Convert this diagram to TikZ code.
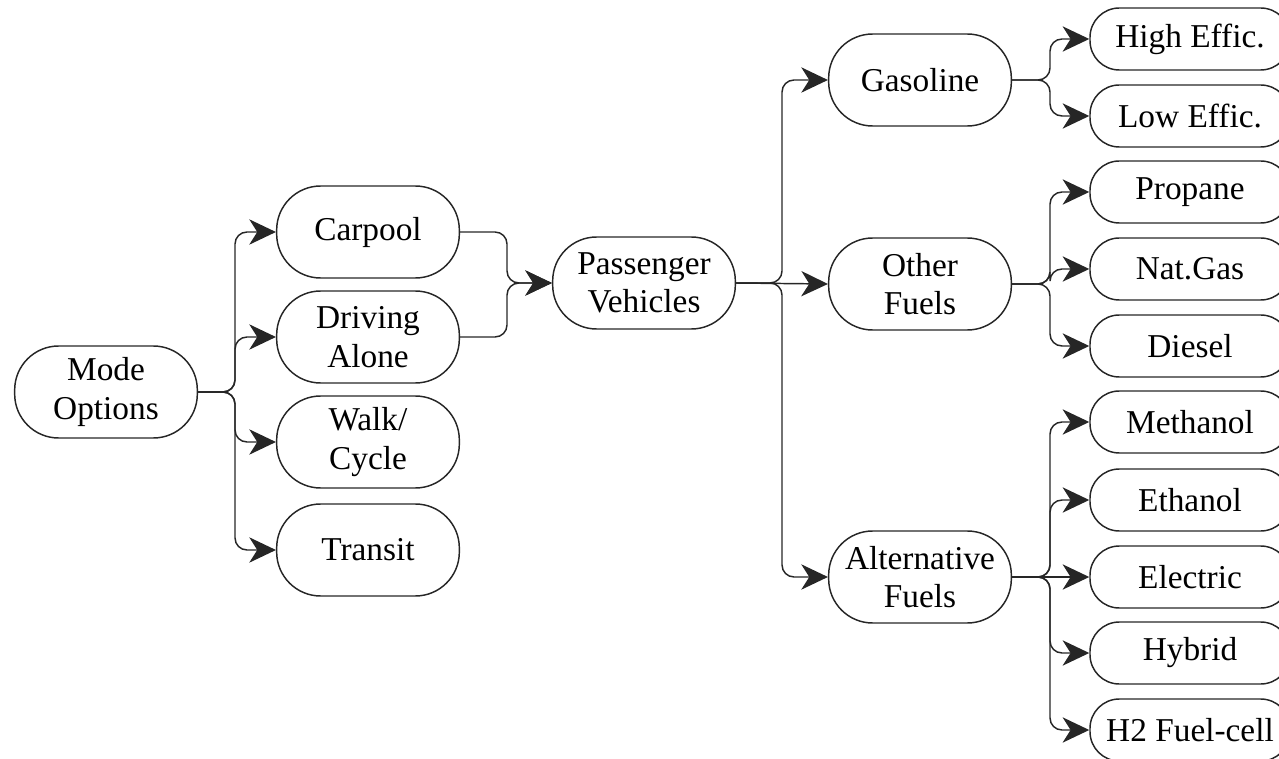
\documentclass[tikz,border=0pt]{standalone}
\usepackage{fontspec}
\setmainfont{Liberation Serif}
\usetikzlibrary{arrows.meta,calc}
\tikzset{
  pill/.style={draw=black!85, line width=1.1pt, rectangle, rounded corners=33pt,
    minimum width=137pt, minimum height=69pt, align=center, inner sep=0pt,
    font=\fontsize{25pt}{29pt}\selectfont},
  leaf/.style={draw=black!85, line width=1.1pt, rectangle, rounded corners=22pt,
    minimum width=150pt, minimum height=46.5pt, align=center, inner sep=0pt,
    font=\fontsize{25pt}{29pt}\selectfont},
  conn/.style={draw=black!85, line width=1.1pt, rounded corners=9pt,
    -{Stealth[length=20pt,width=19pt,inset=6pt]}}
}
\begin{document}
\begin{tikzpicture}[x=0.75pt,y=-0.75pt]
\useasboundingbox (0,0) rectangle (1279,759);
% nodes
\node[pill] (mode) at (106,392) {Mode\\Options};
\node[pill] (carpool) at (368,232) {Carpool};
\node[pill] (driving) at (368,337) {Driving\\Alone};
\node[pill] (walk) at (368,442) {Walk/\\Cycle};
\node[pill] (transit) at (368,550) {Transit};
\node[pill] (pv) at (644,283) {Passenger\\Vehicles};
\node[pill] (gas) at (920,80) {Gasoline};
\node[pill] (other) at (920,284) {Other\\Fuels};
\node[pill] (alt) at (920,577) {Alternative\\Fuels};
\node[leaf] (high) at (1190,39) {High Effic.};
\node[leaf] (low) at (1190,116) {Low Effic.};
\node[leaf] (propane) at (1190,192) {Propane};
\node[leaf] (natgas) at (1190,269) {Nat.Gas};
\node[leaf] (diesel) at (1190,346) {Diesel};
\node[leaf] (methanol) at (1190,422) {Methanol};
\node[leaf] (ethanol) at (1190,500) {Ethanol};
\node[leaf] (electric) at (1190,577) {Electric};
\node[leaf] (hybrid) at (1190,653) {Hybrid};
\node[leaf] (h2) at (1190,730) {H2 Fuel-cell};
% bus coordinates
\coordinate (busA) at (235,0);
\coordinate (busB) at (507,0);
\coordinate (busC) at (782,0);
\coordinate (busD) at (1050,0);
% connectors
\foreach \c in {carpool,driving,walk,transit}
  \draw[conn] (mode.east) -- (mode.east -| busA) -- (busA |- \c.west) -- (\c.west);
\foreach \c in {carpool,driving}
  \draw[conn] (\c.east) -- (\c.east -| busB) -- (busB |- pv.west) -- (pv.west);
\foreach \c in {gas,alt}
  \draw[conn] (pv.east) -- (pv.east -| busC) -- (busC |- \c.west) -- (\c.west);
\draw[conn] (pv.east) -- (other.west);
\foreach \c in {high,low}
  \draw[conn] (gas.east) -- (gas.east -| busD) -- (busD |- \c.west) -- (\c.west);
\foreach \c in {propane,natgas,diesel}
  \draw[conn] (other.east) -- (other.east -| busD) -- (busD |- \c.west) -- (\c.west);
\foreach \c in {methanol,ethanol,hybrid,h2}
  \draw[conn] (alt.east) -- (alt.east -| busD) -- (busD |- \c.west) -- (\c.west);
\draw[conn] (alt.east) -- (electric.west);
\end{tikzpicture}
\end{document}
